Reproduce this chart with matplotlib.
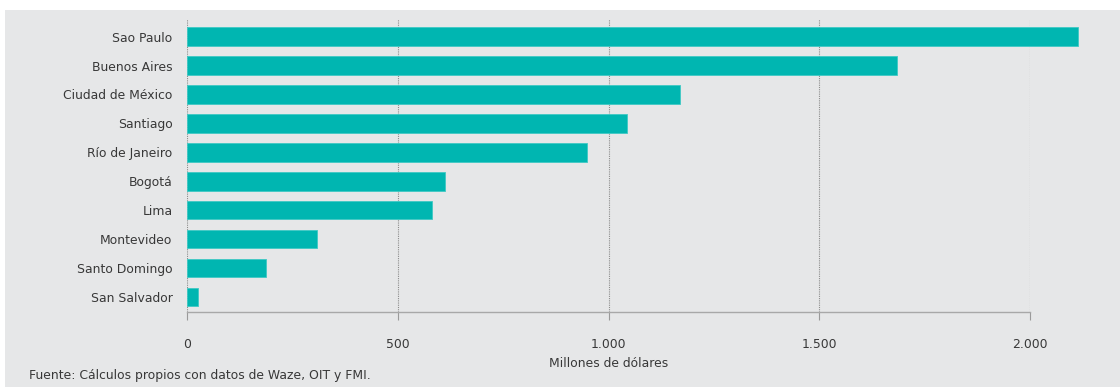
import matplotlib
matplotlib.use("Agg")
import matplotlib.pyplot as plt
from matplotlib.patches import Rectangle
from matplotlib.ticker import FuncFormatter

# Costo anual de la congestión por ciudad (millones de dólares)
ciudades = ["Sao Paulo", "Buenos Aires", "Ciudad de México", "Santiago",
            "Río de Janeiro", "Bogotá", "Lima", "Montevideo",
            "Santo Domingo", "San Salvador"]
valores = [2115, 1685, 1169, 1043, 950, 613, 582, 309, 188, 27]
ticks_x = [0, 500, 1000, 1500, 2000]

BAR = "#00b6b1"
BG = "#e6e7e8"
TXT = "#383838"
FS = 8.9
plt.rcParams["font.family"] = ["DejaVu Sans"]

fig = plt.figure(figsize=(11.2, 3.89), dpi=100)
fig.patch.set_facecolor("white")
# gray panel behind everything
fig.patches.append(Rectangle((5 / 1120, 2 / 389), 1 - 5 / 1120, 1 - 12 / 389,
                             transform=fig.transFigure, facecolor=BG,
                             edgecolor="none", zorder=-10))

ax = fig.add_axes([187 / 1120, 1 - 312 / 389, (1030 - 187) / 1120, (312 - 19) / 389])
ax.set_zorder(1)
ax.set_facecolor("none")

pos = list(range(len(ciudades)))
ax.barh(pos, valores, height=0.64, color=BAR, edgecolor="#3fc9c4",
        linewidth=0.6, clip_on=False, zorder=3)

ax.set_xlim(0, 2000)
ax.set_ylim(len(ciudades) - 0.48, -0.61)
ax.set_yticks(pos)
ax.set_yticklabels(ciudades, fontsize=FS, color=TXT)
for lbl in ax.get_yticklabels():
    lbl.set_va("center_baseline")
ax.set_xticks(ticks_x)
ax.xaxis.set_major_formatter(FuncFormatter(lambda v, p: f"{int(v):,}".replace(",", ".")))
ax.tick_params(axis="x", direction="out", length=6, width=0.8, color="#9a9a9a",
               labelsize=FS, labelcolor=TXT, pad=13)
ax.tick_params(axis="y", length=0, pad=10.5)

for s in ["top", "right", "left"]:
    ax.spines[s].set_visible(False)
ax.spines["bottom"].set_color("#a8a8a8")
ax.spines["bottom"].set_linewidth(1.0)

ax.grid(axis="x", linestyle=(0, (1, 1)), color="#8c8c8c", linewidth=0.8, zorder=1)
ax.set_axisbelow(True)

ax.set_xlabel("Millones de dólares", fontsize=FS, color=TXT, labelpad=4)

fig.text(29 / 1120, 1 - 376 / 389, "Fuente: Cálculos propios con datos de Waze, OIT y FMI.",
         fontsize=FS, color=TXT, va="center", ha="left")

fig.savefig("out.png", dpi=100, facecolor="white")
